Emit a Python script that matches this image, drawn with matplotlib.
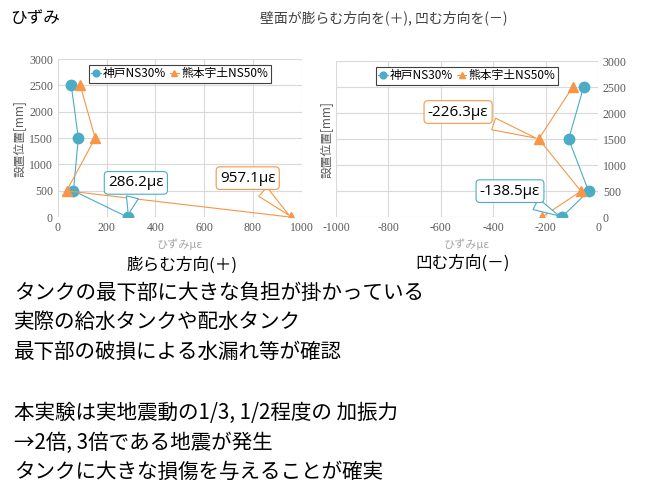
import matplotlib.pyplot as plt
import numpy as np

plt.rcParams['font.family'] = ['Noto Sans CJK JP', 'DejaVu Sans']
plt.rcParams['axes.unicode_minus'] = False

height = [2500, 1500, 500, 0]
kobe_pos = [55, 84, 64, 286.2]
kuma_pos = [92, 153, 36, 957.1]
kobe_neg = [-55, -112, -36, -138.5]
kuma_neg = [-97, -226.3, -65, -214]

blue = '#4bacc6'
orange = '#f79646'
grid_c = '#d9d9d9'
tick_c = '#595959'

fig = plt.figure(figsize=(6.5, 4.88), dpi=100)

def style(ax, xlim):
    ax.set_xlim(*xlim)
    ax.set_ylim(0, 3000)
    ax.set_yticks(np.arange(0, 3001, 500))
    ax.set_xticks(np.arange(xlim[0], xlim[1] + 1, 200))
    ax.grid(color=grid_c, lw=0.8)
    ax.set_axisbelow(True)
    for s in ax.spines.values():
        s.set_visible(False)
    ax.tick_params(length=0, labelsize=8.5, labelcolor=tick_c,
                   labelfontfamily='Liberation Serif')
    ax.set_xlabel('ひずみμε', fontsize=8, color='#a6a6a6', labelpad=3)

def legend(ax):
    leg = ax.legend(loc='upper center', bbox_to_anchor=(0.5, 1.0), ncol=2,
                    fontsize=8.5, handlelength=0.8, handletextpad=0.2,
                    columnspacing=0.3, borderpad=0.2, fancybox=False,
                    framealpha=1, markerscale=0.65)
    leg.get_frame().set_edgecolor('#404040')
    leg.get_frame().set_linewidth(0.8)

def callout(ax, text, xy, xytext, color):
    ax.annotate(text, xy=xy, xytext=xytext, fontsize=11, ha='center', va='center',
                family=['Open Sans', 'DejaVu Sans'],
                bbox=dict(boxstyle='round,pad=0.25', fc='white', ec=color, lw=0.8),
                arrowprops=dict(arrowstyle='wedge,tail_width=0.8,shrink_factor=0.5',
                                fc='white', ec=color, lw=0.8))

# left chart
ax1 = fig.add_axes([0.089, 0.555, 0.375, 0.324])
ax1.plot(kobe_pos, height, color=blue, lw=0.8, marker='o', ms=7.5, label='神戸NS30%')
ax1.plot(kuma_pos, height, color=orange, lw=0.8, marker='^', ms=7, label='熊本宇土NS50%')
style(ax1, (0, 1000))
ax1.set_ylabel('設置位置[mm]', fontsize=8.5, color=tick_c, labelpad=2)
legend(ax1)
callout(ax1, '286.2με', (kobe_pos[3], 0), (320, 650), blue)
callout(ax1, '957.1με', (kuma_pos[3], 0), (779, 740), orange)
fig.text(0.28, 0.457, '膨らむ方向(＋)', fontsize=12, ha='center', va='center')

# right chart
ax2 = fig.add_axes([0.517, 0.555, 0.403, 0.320])
ax2.plot(kobe_neg, height, color=blue, lw=0.8, marker='o', ms=7.5, label='神戸NS30%')
ax2.plot(kuma_neg, height, color=orange, lw=0.8, marker='^', ms=7, label='熊本宇土NS50%')
style(ax2, (-1000, 0))
ax2.yaxis.tick_right()
ax2.set_ylabel('設置位置[mm]', fontsize=8.5, color=tick_c, labelpad=2)
ax2.yaxis.set_label_position('left')
legend(ax2)
callout(ax2, '-226.3με', (kuma_neg[1], 1500), (-534, 2020), orange)
callout(ax2, '-138.5με', (kobe_neg[3], 0), (-336, 500), blue)
fig.text(0.712, 0.461, '凹む方向(－)', fontsize=12, ha='center', va='center')

# header
fig.text(0.015, 0.963, 'ひずみ', fontsize=12, va='center')
fig.text(0.40, 0.963, '壁面が膨らむ方向を(＋), 凹む方向を(－)', fontsize=10,
         color='#404040', va='center')

lines = ['タンクの最下部に大きな負担が掛かっている',
         '実際の給水タンクや配水タンク',
         '最下部の破損による水漏れ等が確認',
         '',
         '本実験は実地震動の1/3, 1/2程度の 加振力',
         '→2倍, 3倍である地震が発生',
         'タンクに大きな損傷を与えることが確実']
ys = [293, 322, 352, 382, 413, 443, 472]
for t, y in zip(lines, ys):
    fig.text(0.022, 1 - y / 488, t, fontsize=14.8, va='center')

fig.savefig('out.png', dpi=100)
